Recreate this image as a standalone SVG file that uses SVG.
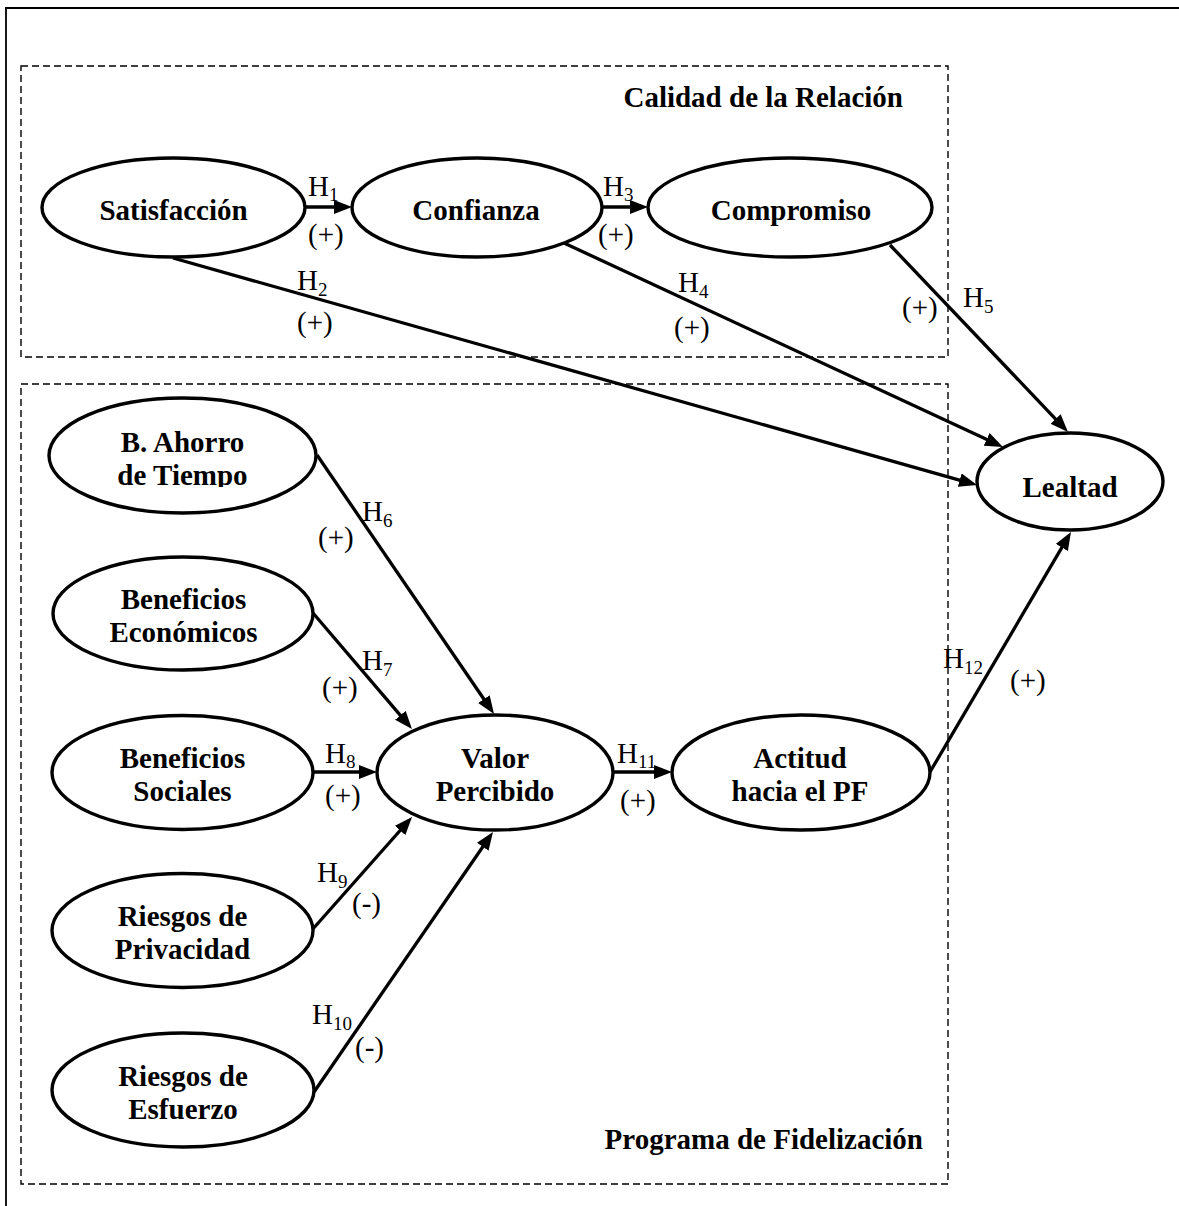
<svg xmlns="http://www.w3.org/2000/svg" width="1179" height="1206" viewBox="0 0 1179 1206">
  <style>
    .frame { fill: none; stroke: #000; stroke-width: 1.4; stroke-dasharray: 7 4; }
    .border { fill: none; stroke: #000; stroke-width: 1.8; }
    .node ellipse { fill: #fff; stroke: #000; stroke-width: 3.4; }
    .node text { font-family: "Liberation Serif", "Times New Roman", serif; font-size: 29px; font-weight: bold; text-anchor: middle; fill: #000; }
    .title { font-family: "Liberation Serif", "Times New Roman", serif; font-size: 29px; font-weight: bold; text-anchor: end; fill: #000; }
    .edge { fill: none; stroke: #000; stroke-width: 3.3; marker-end: url(#arrow); }
    .hyp { font-family: "Liberation Serif", "Times New Roman", serif; font-size: 29px; fill: #000; }
    .sub { font-size: 19px; }
  </style>
  <defs>
    <marker id="arrow" viewBox="0 0 18 14" refX="8" refY="7" markerWidth="18" markerHeight="14" markerUnits="userSpaceOnUse" orient="auto">
      <path d="M0,0 L18,7 L0,14 Z" fill="#000"/>
    </marker>
    <clipPath id="clip-ahorro">
      <rect x="40" y="400" width="290" height="87"/>
    </clipPath>
  </defs>

  <rect width="1179" height="1206" fill="#fff"/>

  <!-- page border (top and left only) -->
  <path class="border" d="M5,8 H1179 M6,8 V1206"/>

  <!-- dashed group frames -->
  <g id="frames">
    <rect class="frame" x="21" y="66" width="927" height="291"/>
    <rect class="frame" x="21" y="384" width="927" height="800"/>
    <text class="title" x="903" y="107">Calidad de la Relación</text>
    <text class="title" x="923" y="1149">Programa de Fidelización</text>
  </g>

  <!-- connectors (end points stop 10px short of each arrow tip) -->
  <g id="connectors">
    <path class="edge" d="M305,207 L342,207"/>
    <path class="edge" d="M602,207 L638,207"/>
    <path class="edge" d="M173,258 L967.4,482.3"/>
    <path class="edge" d="M564,243 L993.9,442.8"/>
    <path class="edge" d="M890,245 L1061.1,424.8"/>
    <path class="edge" d="M930,772 L1065.9,540.6"/>
    <path class="edge" d="M317,455 L488.4,705.7"/>
    <path class="edge" d="M313,613 L405.5,721.4"/>
    <path class="edge" d="M313,772 L367,772"/>
    <path class="edge" d="M312,930 L405.4,824.5"/>
    <path class="edge" d="M314,1092 L487.3,840.2"/>
    <path class="edge" d="M613,772 L662,772"/>
  </g>

  <!-- hypothesis labels -->
  <g id="edge-labels">
    <text class="hyp" x="308" y="196">H<tspan class="sub" dy="5">1</tspan></text>
    <text class="hyp" x="308" y="244">(+)</text>
    <text class="hyp" x="603" y="196">H<tspan class="sub" dy="5">3</tspan></text>
    <text class="hyp" x="598" y="244">(+)</text>
    <text class="hyp" x="297" y="290">H<tspan class="sub" dy="6">2</tspan></text>
    <text class="hyp" x="297" y="332">(+)</text>
    <text class="hyp" x="678" y="292">H<tspan class="sub" dy="6">4</tspan></text>
    <text class="hyp" x="674" y="337">(+)</text>
    <text class="hyp" x="963" y="307">H<tspan class="sub" dy="6">5</tspan></text>
    <text class="hyp" x="902" y="317">(+)</text>
    <text class="hyp" x="362" y="521">H<tspan class="sub" dy="6">6</tspan></text>
    <text class="hyp" x="318" y="547">(+)</text>
    <text class="hyp" x="362" y="670">H<tspan class="sub" dy="6">7</tspan></text>
    <text class="hyp" x="322" y="697">(+)</text>
    <text class="hyp" x="325" y="763">H<tspan class="sub" dy="5">8</tspan></text>
    <text class="hyp" x="325" y="805">(+)</text>
    <text class="hyp" x="317" y="882">H<tspan class="sub" dy="6">9</tspan></text>
    <text class="hyp" x="352" y="913">(-)</text>
    <text class="hyp" x="312" y="1024">H<tspan class="sub" dy="6">10</tspan></text>
    <text class="hyp" x="355" y="1057">(-)</text>
    <text class="hyp" x="617" y="763">H<tspan class="sub" dy="5">11</tspan></text>
    <text class="hyp" x="620" y="810">(+)</text>
    <text class="hyp" x="943" y="668">H<tspan class="sub" dy="6">12</tspan></text>
    <text class="hyp" x="1010" y="690">(+)</text>
  </g>

  <!-- constructs -->
  <g id="satisfaccion" class="node">
    <ellipse cx="173.5" cy="207.5" rx="131.5" ry="49.5"/>
    <text x="173.5" y="220">Satisfacción</text>
  </g>
  <g id="confianza" class="node">
    <ellipse cx="477" cy="207.5" rx="125" ry="49.5"/>
    <text x="476" y="220">Confianza</text>
  </g>
  <g id="compromiso" class="node">
    <ellipse cx="790" cy="207.5" rx="142" ry="49.5"/>
    <text x="791" y="220">Compromiso</text>
  </g>
  <g id="lealtad" class="node">
    <ellipse cx="1070" cy="481.5" rx="93" ry="48.5"/>
    <text x="1070" y="497">Lealtad</text>
  </g>
  <g id="ahorro-tiempo" class="node">
    <ellipse cx="182.5" cy="455.5" rx="133.5" ry="57.5"/>
    <text x="182.5" y="452">B. Ahorro</text>
    <text x="182.5" y="485" clip-path="url(#clip-ahorro)">de Tiempo</text>
  </g>
  <g id="beneficios-economicos" class="node">
    <ellipse cx="183" cy="613.5" rx="130" ry="56.5"/>
    <text x="183.5" y="609">Beneficios</text>
    <text x="183.5" y="642">Económicos</text>
  </g>
  <g id="beneficios-sociales" class="node">
    <ellipse cx="182.5" cy="772.5" rx="130.5" ry="57"/>
    <text x="182.5" y="768">Beneficios</text>
    <text x="182.5" y="801">Sociales</text>
  </g>
  <g id="riesgos-privacidad" class="node">
    <ellipse cx="182.5" cy="930.5" rx="130.5" ry="57"/>
    <text x="182.5" y="926">Riesgos de</text>
    <text x="182.5" y="959">Privacidad</text>
  </g>
  <g id="riesgos-esfuerzo" class="node">
    <ellipse cx="183" cy="1090" rx="131" ry="57"/>
    <text x="183" y="1086">Riesgos de</text>
    <text x="183" y="1119">Esfuerzo</text>
  </g>
  <g id="valor-percibido" class="node">
    <ellipse cx="495" cy="772.5" rx="118" ry="57.5"/>
    <text x="495" y="768">Valor</text>
    <text x="495" y="801">Percibido</text>
  </g>
  <g id="actitud-pf" class="node">
    <ellipse cx="801" cy="772.5" rx="129" ry="57.5"/>
    <text x="800" y="768">Actitud</text>
    <text x="800" y="801">hacia el PF</text>
  </g>
</svg>
